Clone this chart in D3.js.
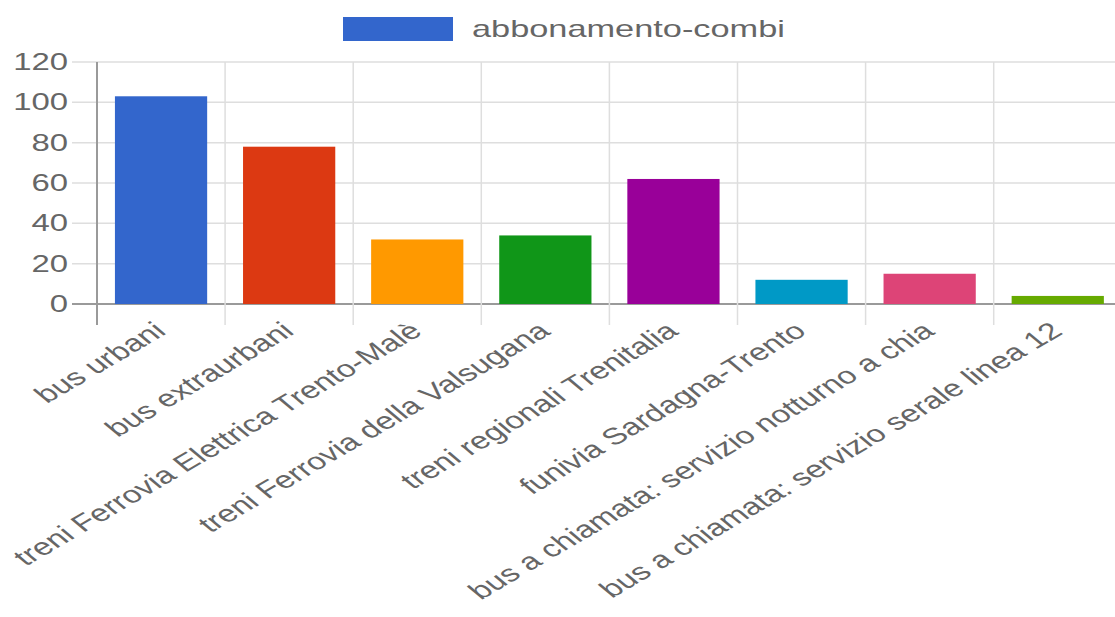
<!DOCTYPE html>
<html>
<head>
<meta charset="utf-8">
<script src="https://cdn.jsdelivr.net/npm/d3@7"></script>
<style>
  html, body { margin: 0; padding: 0; background: #ffffff; overflow: hidden; }
  svg { display: block; font-family: "Liberation Sans", Arial, sans-serif; }
</style>
</head>
<body>
<svg id="chart" width="1115" height="617"></svg>
<script>
// ---- data ----
const categories = [
  "bus urbani",
  "bus extraurbani",
  "treni Ferrovia Elettrica Trento-Malè",
  "treni Ferrovia della Valsugana",
  "treni regionali Trenitalia",
  "funivia Sardagna-Trento",
  "bus a chiamata: servizio notturno a chia",
  "bus a chiamata: servizio serale linea 12"
];
const seriesName = "abbonamento-combi";
const values = [103, 78, 32, 34, 62, 12, 15, 4];
const barColors = ["#3366cc", "#dc3912", "#ff9900", "#109618", "#990099", "#0099c6", "#dd4477", "#66aa00"];
const yTicks = [0, 20, 40, 60, 80, 100, 120];

// ---- layout ----
const SX = 1.43;          // horizontal stretch of the original rendering
const ANG = 40;           // label rotation (before stretch)
const plotLeft = 97, plotTop = 62, plotBottom = 304, step = 128.1;
const plotRight = plotLeft + step * categories.length;
const svg = d3.select("#chart");

const x = d3.scaleBand().domain(categories).range([plotLeft, plotRight]).padding(0);
const y = d3.scaleLinear().domain([0, 120]).range([plotBottom, plotTop]);
const barW = x.bandwidth() * 0.72;

// horizontal grid
svg.append("g").selectAll("line").data(yTicks).join("line")
  .attr("x1", plotLeft - 25).attr("x2", plotRight)
  .attr("y1", d => y(d)).attr("y2", d => y(d))
  .attr("stroke", d => d === 0 ? "#9a9a9a" : "#dedede")
  .attr("stroke-width", d => d === 0 ? 2 : 1.5);

// vertical grid / ticks
const bounds = d3.range(categories.length + 1).map(i => plotLeft + i * step);
svg.append("g").selectAll("line").data(bounds).join("line")
  .attr("x1", d => d).attr("x2", d => d)
  .attr("y1", plotTop).attr("y2", plotBottom + 21)
  .attr("stroke", (d, i) => i === 0 ? "#9a9a9a" : "#dedede")
  .attr("stroke-width", (d, i) => i === 0 ? 2 : 1.5);

// bars
svg.append("g").selectAll("rect").data(values).join("rect")
  .attr("x", (d, i) => x(categories[i]) + (x.bandwidth() - barW) / 2)
  .attr("width", barW)
  .attr("y", d => y(d))
  .attr("height", d => y(0) - y(d))
  .attr("fill", (d, i) => barColors[i]);

// y labels
svg.append("g").selectAll("text").data(yTicks).join("text")
  .attr("transform", d => `translate(68,${y(d)}) scale(${SX},1)`)
  .attr("text-anchor", "end")
  .attr("dominant-baseline", "central")
  .attr("font-size", 23)
  .attr("fill", "#666")
  .text(d => d);

// x labels
svg.append("g").selectAll("text").data(categories).join("text")
  .attr("transform", d => `translate(${x(d) + x.bandwidth() / 2 - 1},327) scale(${SX},1) rotate(${-ANG})`)
  .attr("text-anchor", "end")
  .attr("dominant-baseline", "central")
  .attr("font-size", 23.6)
  .attr("fill", "#666")
  .text(d => d);

// legend
svg.append("rect").attr("x", 343).attr("y", 17).attr("width", 110).attr("height", 24)
  .attr("fill", barColors[0]);
svg.append("text")
  .attr("transform", `translate(472,37) scale(${SX},1)`)
  .attr("font-size", 24)
  .attr("fill", "#666")
  .text(seriesName);
</script>
</body>
</html>
